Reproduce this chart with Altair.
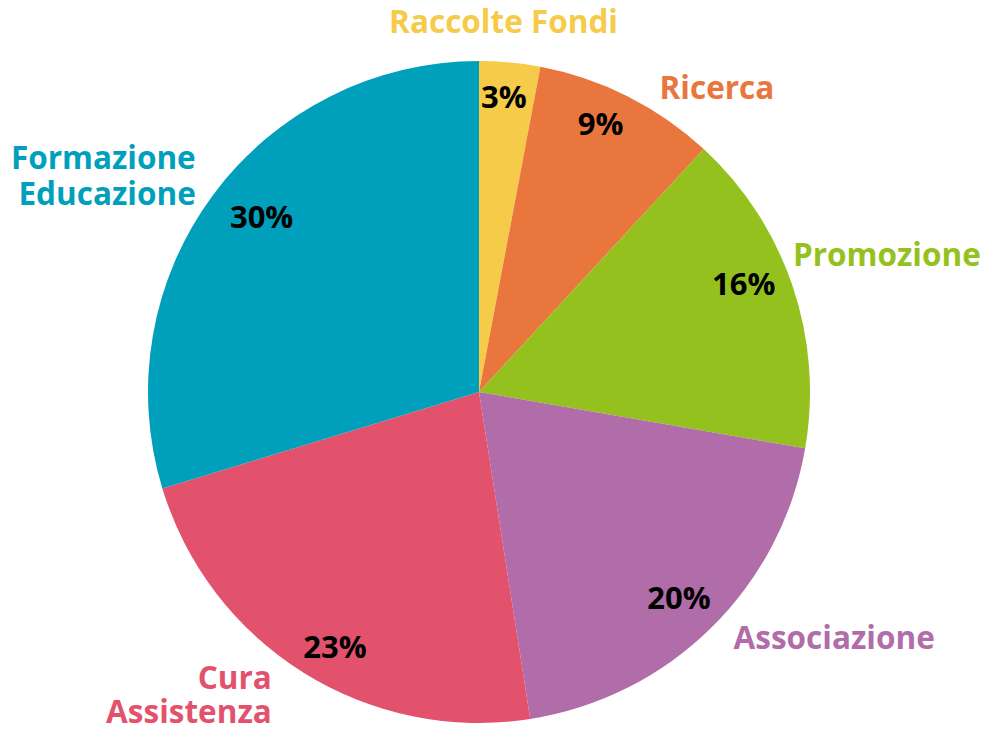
import altair as alt
import pandas as pd

categories = ["Raccolte Fondi", "Ricerca", "Promozione", "Associazione", "Cura\nAssistenza", "Formazione\nEducazione"]
values = [3, 9, 16, 20, 23, 30]
pct_labels = ["3%", "9%", "16%", "20%", "23%", "30%"]
colors = ["#F6CB4A", "#E9763D", "#95C11F", "#B06DA9", "#E2526D", "#009FBB"]

df = pd.DataFrame({
    "cat": categories,
    "value": values,
    "pct": pct_labels,
    "idx": list(range(len(categories))),
})

CX, CY = 471, 384
FONT = "Open Sans"
total = sum(values)
theta_scale = alt.Scale(domain=[0, total])
color_scale = alt.Scale(domain=categories, range=colors)

arcs = alt.Chart(df).mark_arc(outerRadius=331, stroke=None).encode(
    theta=alt.Theta("value:Q", stack=True, scale=theta_scale),
    order=alt.Order("idx:Q"),
    color=alt.Color("cat:N", scale=color_scale, legend=None),
    x=alt.value(CX),
    y=alt.value(CY),
)

lab_base = alt.Chart(df).transform_window(
    cum="sum(value)", sort=[alt.SortField("idx")], frame=[None, 0]
).transform_calculate(
    mid="datum.cum - datum.value / 2"
).encode(
    theta=alt.Theta("mid:Q", stack=None, scale=theta_scale),
    x=alt.value(CX),
    y=alt.value(CY),
)

# percent labels: (dx, dy)
pct_style = {
    "Raccolte Fondi": (-2, -6),
    "Ricerca": (-8, -9),
    "Promozione": (-8, -14),
    "Associazione": (-2, 3),
    "Cura\nAssistenza": (9, 13),
    "Formazione\nEducazione": (14, -2),
}

# outer labels: (align, dx, dy, lineHeight)
label_style = {
    "Raccolte Fondi": ("center", -9, -10, 36),
    "Ricerca": ("center", 76, 20, 36),
    "Promozione": ("left", -27, -20, 36),
    "Associazione": ("left", 2, -9, 36),
    "Cura\nAssistenza": ("right", -16, -17, 34),
    "Formazione\nEducazione": ("right", 6, -18, 36),
}

layers = [arcs]
for cat, (dx, dy) in pct_style.items():
    layers.append(
        lab_base.mark_text(radius=288, font=FONT, fontSize=31, fontWeight="bold",
                           color="#000000", align="center", baseline="middle",
                           dx=dx, dy=dy).encode(
            text="pct:N"
        ).transform_filter(alt.datum.cat == cat)
    )
for cat, (align, dx, dy, lh) in label_style.items():
    layers.append(
        lab_base.mark_text(radius=360, font=FONT, fontSize=31.5, fontWeight="bold",
                           align=align, baseline="middle", dx=dx, dy=dy,
                           lineBreak="\n", lineHeight=lh).encode(
            text="cat:N",
            color=alt.Color("cat:N", scale=color_scale, legend=None),
        ).transform_filter(alt.datum.cat == cat)
    )

chart = alt.layer(*layers).properties(
    width=973, height=715,
    autosize=alt.AutoSizeParams(type="none"),
    padding=0,
).configure_view(stroke=None)

chart.save("out.html", embed_options={"renderer": "svg", "actions": False})
